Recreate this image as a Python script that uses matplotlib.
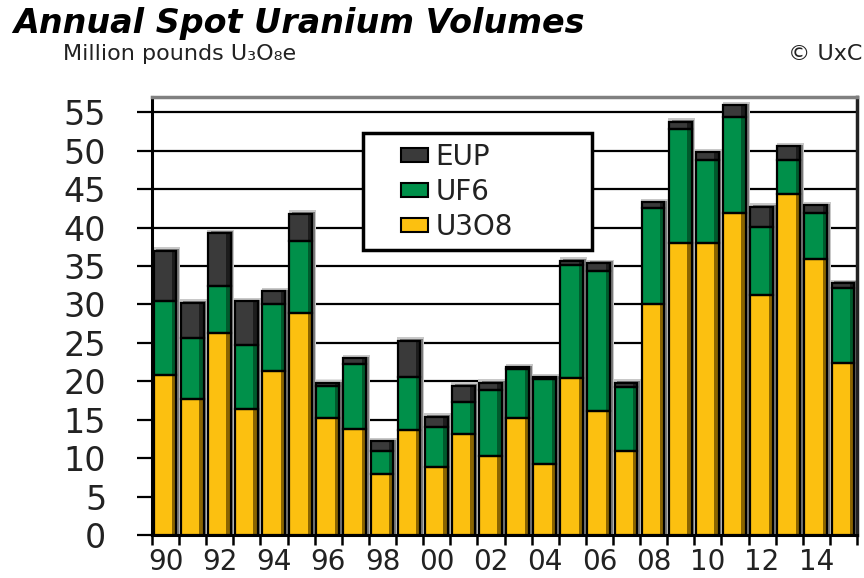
import matplotlib
matplotlib.use("Agg")
import matplotlib.pyplot as plt
import numpy as np
from matplotlib.patches import Patch, Rectangle
from matplotlib.legend_handler import HandlerPatch

years = list(range(1990, 2016))
u3o8 = [20.8, 17.7, 26.3, 16.4, 21.4, 28.9, 15.2, 13.8, 8.0, 13.6, 8.8, 13.2, 10.3,
        15.2, 9.3, 20.4, 16.2, 10.9, 30.0, 38.0, 38.0, 41.9, 31.2, 44.4, 35.9, 22.4]
uf6 = [9.7, 8.0, 6.1, 8.3, 8.6, 9.3, 4.2, 8.4, 2.9, 7.0, 5.2, 4.1, 8.6,
       6.4, 11.0, 14.8, 18.2, 8.4, 12.5, 14.9, 10.8, 12.5, 8.9, 4.4, 6.0, 9.7]
eup = [6.5, 4.5, 6.9, 5.7, 1.7, 3.6, 0.35, 0.8, 1.3, 4.7, 1.4, 2.1, 0.9,
       0.2, 0.2, 0.5, 1.0, 0.5, 0.8, 0.9, 1.0, 1.5, 2.6, 1.8, 1.0, 0.7]
series_names = ["EUP", "UF6", "U3O8"]
yticks = list(range(0, 60, 5))
xlabels = ["90", "92", "94", "96", "98", "00", "02", "04", "06", "08", "10", "12", "14"]

col_u = "#FCC010"
col_g = "#00904A"
col_e = "#3A3A3A"
dark_u = "#8A6400"
dark_g = "#005A2C"
dark_e = "#1C1C1C"

plt.rcParams['font.family'] = ['DejaVu Sans']

fig = plt.figure(figsize=(8.64, 5.78), dpi=100)
ax = fig.add_axes([152/864, 43/578, 705/864, 438/578])

x = np.arange(len(years)) - 0.02
u = np.array(u3o8); g = np.array(uf6); e = np.array(eup)
total = u + g + e
w = 0.84
sw = 0.13

# shadows
ax.bar(x + 0.06, total + 0.45, width=w + 0.16, color="#C8C8C8", lw=0, zorder=1.5)
ax.bar(x + 0.10, total + 0.2, width=w, color="#7A7A7A", lw=0, zorder=2)

segs = [(u, np.zeros_like(u), col_u, dark_u),
        (g, u, col_g, dark_g),
        (e, u + g, col_e, dark_e)]
for vals, bot, c, dc in segs:
    ax.bar(x, vals, bottom=bot, width=w, color=c, lw=0, zorder=3)
    ax.bar(x + w/2 - sw/2 - 0.03, vals, bottom=bot, width=sw, color=dc, lw=0, zorder=4)
    ax.bar(x, vals, bottom=bot, width=w, fill=False, edgecolor="black", lw=1.6, zorder=5)

ax.set_xlim(-0.5, len(years) - 0.5)
ax.set_ylim(0, 57)

ax.set_yticks(yticks)
ax.set_yticklabels([str(v) for v in yticks], fontsize=24, color="#222222")
ax.yaxis.grid(True, color="black", lw=1.6, zorder=0.5)
ax.set_axisbelow(True)
ax.tick_params(axis="y", length=11, width=1.6, pad=22, direction="out")

ax.set_xticks(np.arange(0, len(years), 2))
ax.set_xticklabels(xlabels, fontsize=20, color="#222222")
ax.set_xticks(np.arange(-0.5, len(years), 1), minor=True)
ax.tick_params(axis="x", which="major", length=0, pad=9)
ax.tick_params(axis="x", which="minor", length=7, width=1.8, direction="out")

for s in ["left", "bottom"]:
    ax.spines[s].set_color("black")
    ax.spines[s].set_linewidth(2.2)
ax.spines["top"].set_color("#808080")
ax.spines["top"].set_linewidth(2.5)
ax.spines["right"].set_color("#222222")
ax.spines["right"].set_linewidth(2.5)


def make_patch(legend, orig_handle, xdescent, ydescent, width, height, fontsize):
    pw = 27 * 72 / 100
    ph = 14 * 72 / 100
    return Rectangle((width - pw - xdescent, -ydescent + (height - ph) / 2), pw, ph)


handles = [Patch(facecolor=col_e, edgecolor="black", lw=1.5, label="EUP"),
           Patch(facecolor=col_g, edgecolor="black", lw=1.5, label="UF6"),
           Patch(facecolor=col_u, edgecolor="black", lw=1.5, label="U3O8")]
leg = ax.legend(handles=handles, labels=series_names, loc="upper left",
                bbox_to_anchor=(0.2993, 0.0, 0.3248, 0.918), mode="expand",
                borderaxespad=0, fontsize=20, frameon=True, fancybox=False,
                handlelength=2.0, handleheight=0.6, handletextpad=0.25,
                labelspacing=0.25, borderpad=0.35,
                handler_map={Patch: HandlerPatch(patch_func=make_patch)})
leg.get_frame().set_edgecolor("black")
leg.get_frame().set_linewidth(2.5)
leg.get_frame().set_alpha(1)
leg.set_zorder(10)
for t in leg.get_texts():
    t.set_color("#222222")

fig.text(13/864, 1 - 33/578, "Annual Spot Uranium Volumes", fontsize=24,
         fontweight="bold", fontstyle="italic", ha="left", va="baseline", color="black")
fig.text(63/864, 1 - 60/578, "Million pounds U₃O₈e", fontsize=16,
         ha="left", va="baseline", color="#222222")
fig.text(862/864, 1 - 60/578, "© UxC", fontsize=16,
         ha="right", va="baseline", color="#222222")

fig.savefig("out.png", dpi=100)
